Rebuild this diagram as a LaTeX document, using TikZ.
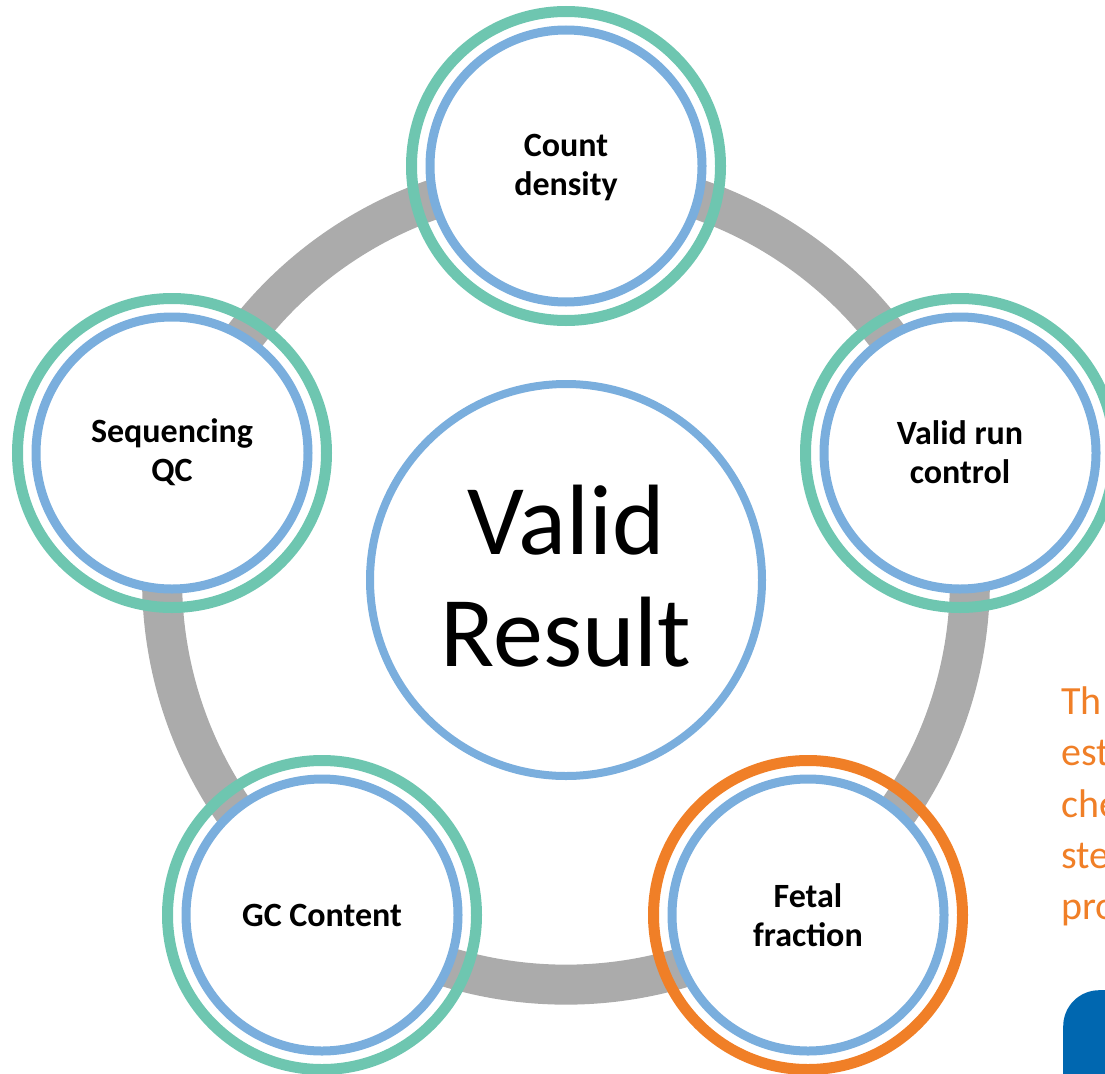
\documentclass[tikz,border=0pt]{standalone}
\usepackage{fontspec}
\setmainfont{Carlito}
\definecolor{ringgreen}{HTML}{6EC6B0}
\definecolor{ringblue}{HTML}{7AAEDD}
\definecolor{linkgray}{HTML}{ABABAB}
\definecolor{noteorange}{HTML}{F07F27}
\definecolor{panelblue}{HTML}{0067B0}
\tikzset{
  outerring/.style={circle,draw=ringgreen,line width=11pt,minimum size=309pt,inner sep=0pt},
  orangering/.style={outerring,draw=noteorange},
  innerdisc/.style={circle,draw=ringblue,fill=white,line width=9pt,minimum size=272pt,inner sep=0pt,align=center,font=\bfseries\fontsize{34}{38.5}\selectfont},
  hubdisc/.style={circle,draw=ringblue,fill=white,line width=8pt,minimum size=392pt,inner sep=0pt},
  hubtext/.style={inner sep=0pt,align=center,font=\fontsize{100}{112}\selectfont},
  disctext/.style={inner sep=0pt,align=center,font=\bfseries\fontsize{34}{38.5}\selectfont},
  linkseg/.style={draw=linkgray,line width=40pt,bend left=36,looseness=0.941},
}
\begin{document}
\begin{tikzpicture}[x=1pt,y=-1pt]
\useasboundingbox (0,0) rectangle (1105,1073);
\clip (0,0) rectangle (1105,1073);
\coordinate (ptop) at (566,177);
\coordinate (pright) at (950.2,456.2);
\coordinate (plr) at (803.5,907.8);
\coordinate (pll) at (328.5,907.8);
\coordinate (pleft) at (181.8,456.2);
\draw[linkseg] (ptop) to (pright);
\draw[linkseg] (pright) to (plr);
\draw[linkseg] (plr) to (pll);
\draw[linkseg] (pll) to (pleft);
\draw[linkseg] (pleft) to (ptop);
\node[outerring] (ringtop) at (566,166) {};
\node[outerring] (ringright) at (960,453) {};
\node[outerring] (ringleft) at (172,453) {};
\node[outerring] (ringll) at (322,915) {};
\node[orangering] (ringlr) at (808,915) {};
\node[innerdisc] (count) at (566,166) {};
\node[disctext] (countlabel) at (566,167.5) {Count\\density};
\node[innerdisc] (run) at (960,453) {};
\node[disctext] (runlabel) at (960,452) {Valid run\\control};
\node[innerdisc] (seq) at (172,453) {};
\node[disctext] (seqlabel) at (172,452) {Sequencing\\QC};
\node[innerdisc] (gc) at (322,915) {GC Content};
\node[innerdisc] (fetal) at (808,915) {Fetal\\fraction};
\node[hubdisc] (hub) at (566,580) {};
\node[hubtext] (hublabel) at (566,576.5) {Valid\\Result};
\node[anchor=north west,inner sep=0pt,align=left,text=noteorange,font=\fontsize{40}{51.3}\selectfont] (note) at (1061,686.5) {Th\\est\\che\\ste\\pro};
\node[anchor=north west,fill=panelblue,rounded corners=36pt,minimum width=150pt,minimum height=150pt,inner sep=0pt] (panel) at (1063,990) {};
\end{tikzpicture}
\end{document}
